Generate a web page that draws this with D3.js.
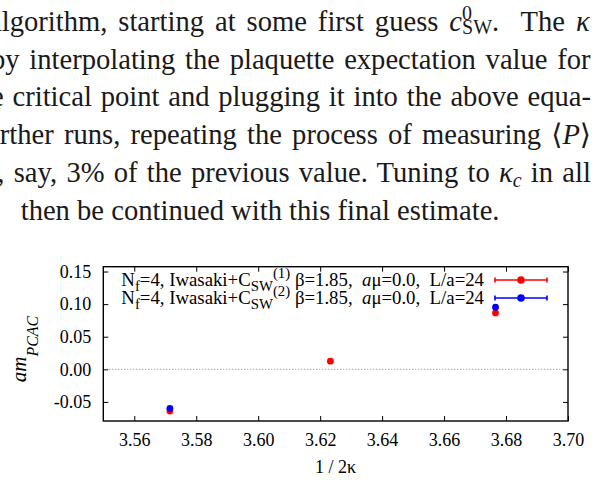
<!DOCTYPE html>
<html>
<head>
<meta charset="utf-8">
<script src="https://cdn.jsdelivr.net/npm/d3@7"></script>
<style>
  body { margin: 0; background: #fff; }
  svg { display: block; }
  text { font-family: "Liberation Serif", "Times New Roman", "DejaVu Serif", serif; white-space: pre; }
</style>
</head>
<body>
<script>
// ---- data ----
var xTicks = [3.56, 3.58, 3.60, 3.62, 3.64, 3.66, 3.68, 3.70];
var yTicks = [-0.05, 0.00, 0.05, 0.10, 0.15];

// C_SW^(1) runs (red)
var kappaRed = [3.5715, 3.6233, 3.6766];
var mRed = [-0.0640, 0.0125, 0.0865];
var errRed = [0.0008, 0.0008, 0.0008];

// C_SW^(2) runs (blue)
var kappaBlue = [3.5715, 3.6766];
var mBlue = [-0.0598, 0.0953];
var errBlue = [0.0008, 0.0008];

var seriesNames = ["(1)", "(2)"];
var seriesColors = ["#ff0000", "#0000ff"];

// running text above the figure (left side is cut off by the page crop)
var textLines = [
  [["algorithm, starting at some first guess "], ["c", "it"], ["0", "sup"], ["SW", "stack"], [".  The "], ["\u03ba", "it"]],
  [["by interpolating the plaquette expectation value for"]],
  [["e critical point and plugging it into the above equa-"]],
  [["further runs, repeating the process of measuring "], ["\u27e8"], ["P", "it"], ["\u27e9"]],
  [["n, say, 3% of the previous value. Tuning to "], ["\u03ba", "it"], ["c", "itsub"], [" in all"]],
  [["then be continued with this final estimate."]]
];

var W = 599, H = 482;
var svg = d3.select("body").append("svg")
    .attr("width", W)
    .attr("height", H);

/*
  paragraph
*/
var lineStart = [-11, -9, -9, -24, -17, 20.7];
var rightEdge = 591;
textLines.forEach(function (segs, i) {
  var t = svg.append("text")
      .attr("x", lineStart[i])
      .attr("y", 30.7 + i * 37.8)
      .style("font-size", "28.6px")
      .attr("fill", "#1a1a1a");
  var cur = 0;
  segs.forEach(function (s) {
    var kind = s[1] || "", off = 0;
    var ts = t.append("tspan").text(s[0]);
    if (kind == "it" || kind == "itsub") ts.style("font-style", "italic");
    if (kind == "sup") { off = -11; ts.style("font-size", "20px"); }
    if (kind == "stack") { off = 3; ts.style("font-size", "20px").attr("dx", -10); }
    if (kind == "itsub") { off = 5; ts.style("font-size", "20px"); }
    if (off != cur) ts.attr("dy", off - cur);
    cur = off;
  });
  // justify every line except the last one
  if (i < textLines.length - 1) {
    var b = t.node().getBBox();
    var nsp = segs.map(function (s) { return s[0]; }).join("").split(" ").length - 1;
    t.style("word-spacing", ((rightEdge - (b.x + b.width)) / nsp) + "px");
  }
});

/*
  plot
*/
var pLeft = 103.3, pRight = 568, pTop = 266.7, pBottom = 421;
var x = d3.scaleLinear().domain([3.55, 3.70]).range([pLeft, pRight]);
var y = d3.scaleLinear().domain([-0.0793, 0.1574]).range([pBottom, pTop]);
var fmt = d3.formatLocale({decimal: ".", thousands: ",", grouping: [3], currency: ["", ""], minus: "-"}).format(".2f");

var g = svg.append("g");

g.append("g")
    .attr("transform", "translate(0," + pBottom + ")")
    .call(d3.axisBottom(x).tickValues(xTicks).tickFormat(fmt).tickSize(-5).tickPadding(12));
g.append("g")
    .attr("transform", "translate(0," + pTop + ")")
    .call(d3.axisTop(x).tickValues(xTicks).tickFormat("").tickSize(-5));
g.append("g")
    .attr("transform", "translate(" + pLeft + ",0)")
    .call(d3.axisLeft(y).tickValues(yTicks).tickFormat(fmt).tickSize(-5).tickPadding(12));
g.append("g")
    .attr("transform", "translate(" + pRight + ",0)")
    .call(d3.axisRight(y).tickValues(yTicks).tickFormat("").tickSize(-5));

g.selectAll(".domain").remove();
g.selectAll(".tick line").attr("stroke", "#000").attr("stroke-width", 1);
g.selectAll(".tick text")
    .attr("fill", "#000")
    .style("font-family", "'Liberation Serif', serif")
    .style("font-size", "18px");

// zero line
g.append("line")
    .attr("x1", pLeft).attr("x2", pRight)
    .attr("y1", y(0)).attr("y2", y(0))
    .attr("stroke", "#808080")
    .attr("stroke-width", 1)
    .attr("stroke-dasharray", "1,2");

g.append("rect")
    .attr("x", pLeft).attr("y", pTop)
    .attr("width", pRight - pLeft).attr("height", pBottom - pTop)
    .attr("fill", "none")
    .attr("stroke", "#000")
    .attr("stroke-width", 1.4);

// points, red first so blue sits on top
var series = [
  {k: kappaRed, m: mRed, e: errRed, c: seriesColors[0]},
  {k: kappaBlue, m: mBlue, e: errBlue, c: seriesColors[1]}
];
series.forEach(function (s) {
  var pts = s.k.map(function (k, i) { return {k: k, m: s.m[i], e: s.e[i]}; });
  var sg = g.append("g");
  sg.selectAll("line").data(pts).enter().append("line")
      .attr("x1", function (d) { return x(d.k); })
      .attr("x2", function (d) { return x(d.k); })
      .attr("y1", function (d) { return y(d.m - d.e); })
      .attr("y2", function (d) { return y(d.m + d.e); })
      .attr("stroke", s.c).attr("stroke-width", 1.5);
  sg.selectAll("circle").data(pts).enter().append("circle")
      .attr("cx", function (d) { return x(d.k); })
      .attr("cy", function (d) { return y(d.m); })
      .attr("r", 3.4)
      .attr("fill", s.c);
});

// legend
seriesNames.forEach(function (name, i) {
  var ly = 280 + i * 18;
  var t = g.append("text")
      .attr("x", 484)
      .attr("y", ly + 6)
      .attr("text-anchor", "end")
      .style("font-size", "18.8px")
      .attr("fill", "#000");
  t.append("tspan").text("N");
  t.append("tspan").text("f").style("font-size", "14.8px").attr("dy", 4.5);
  t.append("tspan").text("=4, Iwasaki+C").attr("dy", -4.5);
  t.append("tspan").text("SW").style("font-size", "14.8px").attr("dy", 4.5);
  t.append("tspan").text(name).style("font-size", "14.8px").attr("dy", -12.5);
  t.append("tspan").text(" \u03b2=1.85,  ").attr("dy", 8);
  t.append("tspan").text("a").style("font-style", "italic");
  t.append("tspan").text("\u03bc=0.0,  L/a=24");

  var c = seriesColors[i];
  g.append("line").attr("x1", 495).attr("x2", 547).attr("y1", ly).attr("y2", ly)
      .attr("stroke", c).attr("stroke-width", 1.6);
  [495, 547].forEach(function (px) {
    g.append("line").attr("x1", px).attr("x2", px).attr("y1", ly - 2.5).attr("y2", ly + 2.5)
        .attr("stroke", c).attr("stroke-width", 1.6);
  });
  g.append("circle").attr("cx", 521).attr("cy", ly).attr("r", 3.8).attr("fill", c);
});

// axis titles
g.append("text")
    .attr("x", (pLeft + pRight) / 2)
    .attr("y", 473)
    .attr("text-anchor", "middle")
    .style("font-size", "18px")
    .text("1 / 2\u03ba");

var yl = g.append("text")
    .attr("transform", "translate(26,349) rotate(-90)")
    .attr("text-anchor", "middle")
    .style("font-size", "21px")
    .style("font-style", "italic");
yl.append("tspan").text("am");
yl.append("tspan").text("PCAC").style("font-size", "16px").attr("dy", 12);
</script>
</body>
</html>
